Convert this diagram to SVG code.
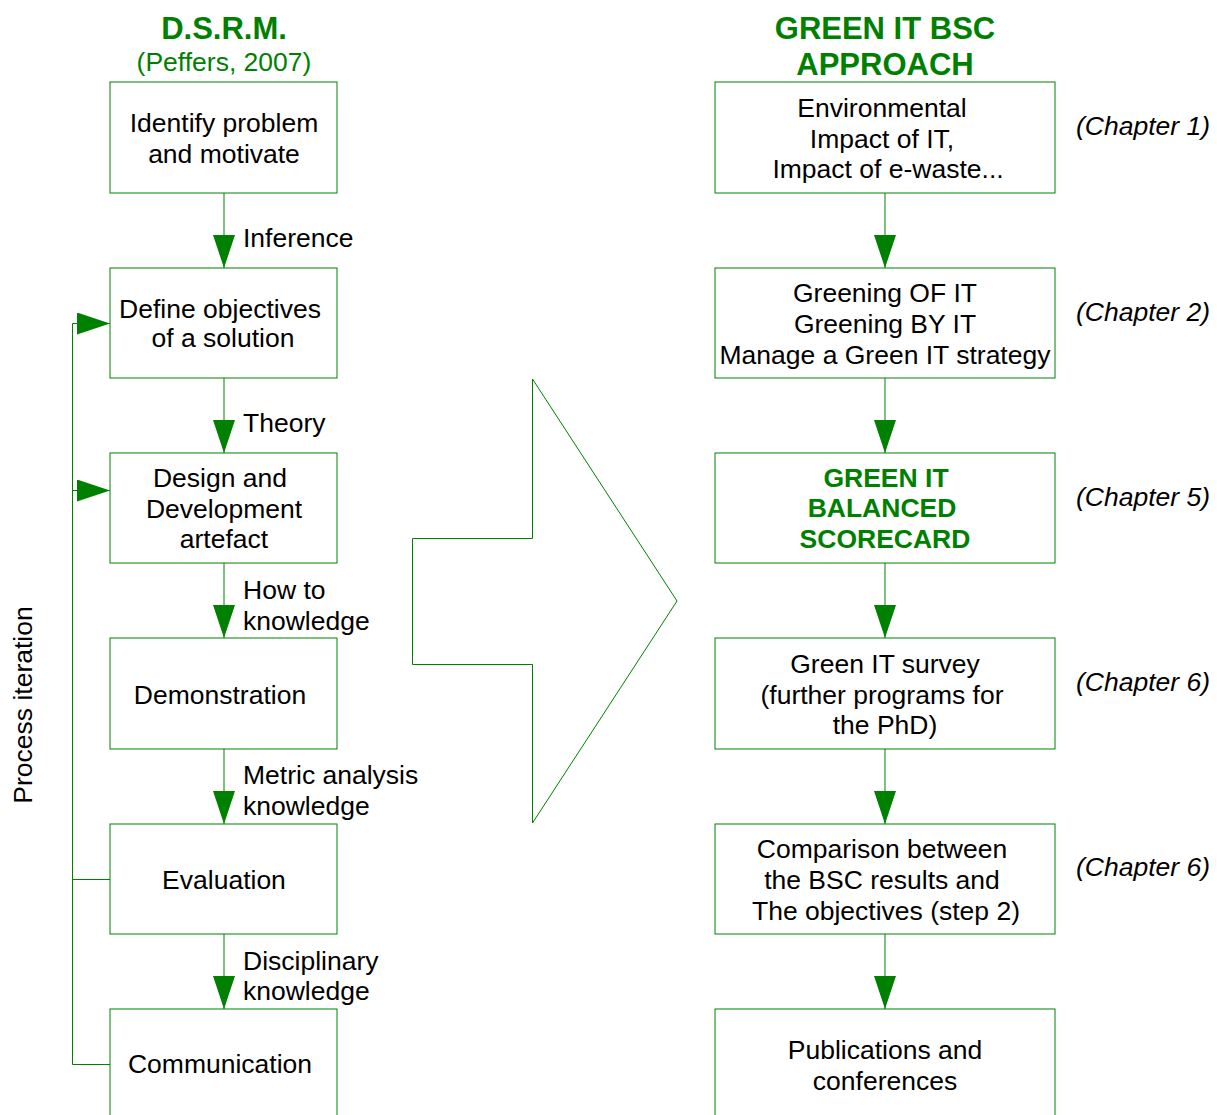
<svg xmlns="http://www.w3.org/2000/svg" width="1217" height="1115" viewBox="0 0 1217 1115">
  <defs>
    <style>
      text { font-family: "Liberation Sans", Arial, sans-serif; font-size: 26.5px; fill: #000; }
      .c { text-anchor: middle; }
      .title { font-weight: bold; font-size: 31px; fill: #008000; text-anchor: middle; }
      .sub { fill: #008000; text-anchor: middle; }
      .hl { font-weight: bold; fill: #008000; text-anchor: middle; }
      .chap { font-style: italic; }
      .box { fill: #fff; stroke: #008000; stroke-width: 1; }
      .link { fill: none; stroke: #008000; stroke-width: 1; }
      .loop { fill: none; stroke: #008000; stroke-width: 1; }
    </style>
    <marker id="head" markerUnits="userSpaceOnUse" markerWidth="34" markerHeight="22" refX="33" refY="11" orient="auto">
      <path d="M0,0 L33,11 L0,22 z" fill="#008000"/>
    </marker>
  </defs>

  <rect width="1217" height="1115" fill="#fff"/>

  <!-- column titles -->
  <text class="title" x="224" y="39">D.S.R.M.</text>
  <text class="sub" x="224" y="71">(Peffers, 2007)</text>
  <text class="title" x="885" y="39">GREEN IT BSC</text>
  <text class="title" x="885" y="75">APPROACH</text>

  <!-- side label for the feedback loop -->
  <text x="0" y="0" transform="translate(32,705) rotate(-90)" class="c">Process iteration</text>

  <!-- big transition arrow -->
  <polygon points="532.5,379 532.5,538.5 412.5,538.5 412.5,664.5 532.5,664.5 532.5,823 677,601" fill="#fff" stroke="#008000" stroke-width="1"/>

  <!-- connectors -->
  <g id="connectors">
    <line class="link" x1="224" y1="193" x2="224" y2="268" marker-end="url(#head)"/>
    <line class="link" x1="224" y1="378" x2="224" y2="453" marker-end="url(#head)"/>
    <line class="link" x1="224" y1="563" x2="224" y2="638" marker-end="url(#head)"/>
    <line class="link" x1="224" y1="749" x2="224" y2="824" marker-end="url(#head)"/>
    <line class="link" x1="224" y1="934" x2="224" y2="1009" marker-end="url(#head)"/>

    <line class="link" x1="885" y1="193" x2="885" y2="268" marker-end="url(#head)"/>
    <line class="link" x1="885" y1="378" x2="885" y2="453" marker-end="url(#head)"/>
    <line class="link" x1="885" y1="563" x2="885" y2="638" marker-end="url(#head)"/>
    <line class="link" x1="885" y1="749" x2="885" y2="824" marker-end="url(#head)"/>
    <line class="link" x1="885" y1="934" x2="885" y2="1009" marker-end="url(#head)"/>

    <!-- process iteration loop -->
    <path class="loop" d="M110,1064.5 H72.5 V323.5 H110" marker-end="url(#head)"/>
    <path class="loop" d="M72.5,490.5 H110" marker-end="url(#head)"/>
    <path class="loop" d="M72.5,879.5 H110"/>

    <!-- connector labels -->
    <text x="243" y="247">Inference</text>
    <text x="243" y="432">Theory</text>
    <text x="243" y="599">How to</text>
    <text x="243" y="630">knowledge</text>
    <text x="243" y="784">Metric analysis</text>
    <text x="243" y="815">knowledge</text>
    <text x="243" y="970">Disciplinary</text>
    <text x="243" y="1000">knowledge</text>
  </g>

  <!-- DSRM steps -->
  <g id="identify">
    <rect class="box" x="110" y="82" width="227" height="111"/>
    <text class="c" x="224" y="132">Identify problem</text>
    <text class="c" x="224" y="163">and motivate</text>
  </g>
  <g id="objectives">
    <rect class="box" x="110" y="268" width="227" height="110"/>
    <text class="c" x="220" y="318">Define objectives</text>
    <text class="c" x="223" y="347">of a solution</text>
  </g>
  <g id="design">
    <rect class="box" x="110" y="453" width="227" height="110"/>
    <text class="c" x="220" y="487">Design and</text>
    <text class="c" x="224" y="518">Development</text>
    <text class="c" x="224" y="548">artefact</text>
  </g>
  <g id="demonstration">
    <rect class="box" x="110" y="638" width="227" height="111"/>
    <text class="c" x="220" y="704">Demonstration</text>
  </g>
  <g id="evaluation">
    <rect class="box" x="110" y="824" width="227" height="110"/>
    <text class="c" x="224" y="889">Evaluation</text>
  </g>
  <g id="communication">
    <rect class="box" x="110" y="1009" width="227" height="111"/>
    <text class="c" x="220" y="1073">Communication</text>
  </g>

  <!-- Green IT BSC approach steps -->
  <g id="impact">
    <rect class="box" x="715" y="82" width="340" height="111"/>
    <text class="c" x="882" y="117">Environmental</text>
    <text class="c" x="882" y="148">Impact of IT,</text>
    <text class="c" x="888" y="178">Impact of e-waste...</text>
    <text class="chap" x="1076" y="135">(Chapter 1)</text>
  </g>
  <g id="greening">
    <rect class="box" x="715" y="268" width="340" height="110"/>
    <text class="c" x="885" y="302">Greening OF IT</text>
    <text class="c" x="885" y="333">Greening BY IT</text>
    <text class="c" x="885" y="364">Manage a Green IT strategy</text>
    <text class="chap" x="1076" y="321">(Chapter 2)</text>
  </g>
  <g id="scorecard">
    <rect class="box" x="715" y="453" width="340" height="110"/>
    <text class="hl" x="886" y="487">GREEN IT</text>
    <text class="hl" x="882" y="517">BALANCED</text>
    <text class="hl" x="885" y="548">SCORECARD</text>
    <text class="chap" x="1076" y="506">(Chapter 5)</text>
  </g>
  <g id="survey">
    <rect class="box" x="715" y="638" width="340" height="111"/>
    <text class="c" x="885" y="673">Green IT survey</text>
    <text class="c" x="882" y="704">(further programs for</text>
    <text class="c" x="885" y="734">the PhD)</text>
    <text class="chap" x="1076" y="691">(Chapter 6)</text>
  </g>
  <g id="comparison">
    <rect class="box" x="715" y="824" width="340" height="110"/>
    <text class="c" x="882" y="858">Comparison between</text>
    <text class="c" x="882" y="889">the BSC results and</text>
    <text class="c" x="886" y="920">The objectives (step 2)</text>
    <text class="chap" x="1076" y="876">(Chapter 6)</text>
  </g>
  <g id="publications">
    <rect class="box" x="715" y="1009" width="340" height="111"/>
    <text class="c" x="885" y="1059">Publications and</text>
    <text class="c" x="885" y="1090">conferences</text>
  </g>
</svg>
